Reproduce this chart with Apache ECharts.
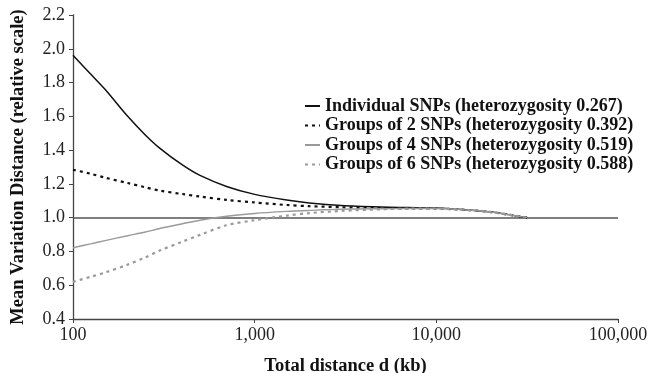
<!DOCTYPE html>
<html>
<head>
<meta charset="utf-8">
<script src="https://cdn.jsdelivr.net/npm/echarts@6/dist/echarts.min.js"></script>
<style>
  html, body { margin: 0; padding: 0; background: #fff; }
  #chart { width: 650px; height: 373px; }
</style>
</head>
<body>
<div id="chart"></div>
<script>
// Total distance d (kb) sample points
const distances = [100, 125, 150, 200, 250, 300, 400, 500, 700, 1000, 1500, 2000, 3000, 5000, 7000, 10000, 15000, 20000, 25000, 31600];

// Mean variation distance (relative scale) per marker set
const individualSNPs = [1.962, 1.85, 1.76, 1.60, 1.49, 1.412, 1.312, 1.25, 1.185, 1.138, 1.104, 1.087, 1.072, 1.063, 1.06, 1.057, 1.045, 1.033, 1.018, 1.0];
const groups2SNPs    = [1.284, 1.26, 1.237, 1.205, 1.18, 1.16, 1.14, 1.125, 1.105, 1.09, 1.075, 1.068, 1.062, 1.057, 1.055, 1.054, 1.045, 1.033, 1.018, 1.0];
const groups4SNPs    = [0.822, 0.845, 0.864, 0.893, 0.915, 0.936, 0.964, 0.985, 1.008, 1.025, 1.037, 1.043, 1.05, 1.053, 1.054, 1.054, 1.045, 1.033, 1.018, 1.0];
const groups6SNPs    = [0.62, 0.65, 0.675, 0.722, 0.765, 0.805, 0.858, 0.898, 0.955, 0.985, 1.012, 1.027, 1.04, 1.05, 1.053, 1.054, 1.045, 1.033, 1.018, 1.0];

const seriesNames = [
  'Individual SNPs (heterozygosity 0.267)',
  'Groups of 2 SNPs (heterozygosity 0.392)',
  'Groups of 4 SNPs (heterozygosity 0.519)',
  'Groups of 6 SNPs (heterozygosity 0.588)'
];

// Axis ranges and tick labels
const xMin = 100, xMax = 100000;
const yMin = 0.4, yMax = 2.2, yStep = 0.2;
const referenceLevel = 1.0;

const pair = vals => distances.map((d, i) => [d, vals[i]]);
const serif = '"Liberation Serif", "DejaVu Serif", serif';
const axisColor = '#444';

const chart = echarts.init(document.getElementById('chart'), null, { renderer: 'canvas' });

const lineSeries = (name, vals, color, width, type) => ({
  name: name,
  type: 'line',
  data: pair(vals),
  showSymbol: false,
  symbol: 'none',
  smooth: 0.3,
  lineStyle: { color: color, width: width, type: type },
  itemStyle: { color: color },
  z: 3
});

const s1 = lineSeries(seriesNames[0], individualSNPs, '#111', 1.5, 'solid');
s1.markLine = {
  silent: true,
  symbol: 'none',
  label: { show: false },
  lineStyle: { color: '#555', width: 1.6, type: 'solid' },
  data: [{ yAxis: referenceLevel }],
  z: 2
};

chart.setOption({
  animation: false,
  backgroundColor: '#fff',
  grid: { left: 73, right: 32, top: 15, bottom: 54, containLabel: false, outerBoundsMode: 'none' },
  legend: {
    orient: 'vertical',
    left: 299,
    top: 92,
    itemWidth: 15,
    itemHeight: 10,
    itemGap: 1.5,
    itemStyle: { opacity: 0 },
    textStyle: { fontFamily: serif, fontWeight: 'bold', fontSize: 18, color: '#111' },
    data: seriesNames
  },
  xAxis: {
    type: 'log',
    logBase: 10,
    min: xMin,
    max: xMax,
    name: 'Total distance d (kb)',
    nameLocation: 'middle',
    nameGap: 38,
    nameTextStyle: { fontFamily: serif, fontWeight: 'bold', fontSize: 18.5, color: '#111' },
    axisLine: { lineStyle: { color: axisColor, width: 1.3 } },
    axisTick: { show: true, length: 4, lineStyle: { color: axisColor } },
    minorTick: { show: false },
    splitLine: { show: false },
    axisLabel: {
      fontFamily: serif, fontSize: 18, color: '#222', margin: 7,
      formatter: v => Number(v).toLocaleString('en-US')
    }
  },
  yAxis: {
    type: 'value',
    min: yMin,
    max: yMax,
    interval: yStep,
    name: 'Mean Variation Distance (relative scale)',
    nameLocation: 'middle',
    nameGap: 45,
    nameTextStyle: { fontFamily: serif, fontWeight: 'bold', fontSize: 18.5, color: '#111' },
    axisLine: { show: true, lineStyle: { color: axisColor, width: 1.3 } },
    axisTick: { show: true, length: 4, lineStyle: { color: axisColor } },
    splitLine: { show: false },
    axisLabel: {
      fontFamily: serif, fontSize: 18, color: '#222', margin: 8,
      formatter: v => v.toFixed(1)
    }
  },
  series: [
    s1,
    lineSeries(seriesNames[1], groups2SNPs, '#111', 2.2, [3, 4]),
    lineSeries(seriesNames[2], groups4SNPs, '#9a9a9a', 1.4, 'solid'),
    lineSeries(seriesNames[3], groups6SNPs, '#9a9a9a', 2.2, [3, 4])
  ]
});
</script>
</body>
</html>
